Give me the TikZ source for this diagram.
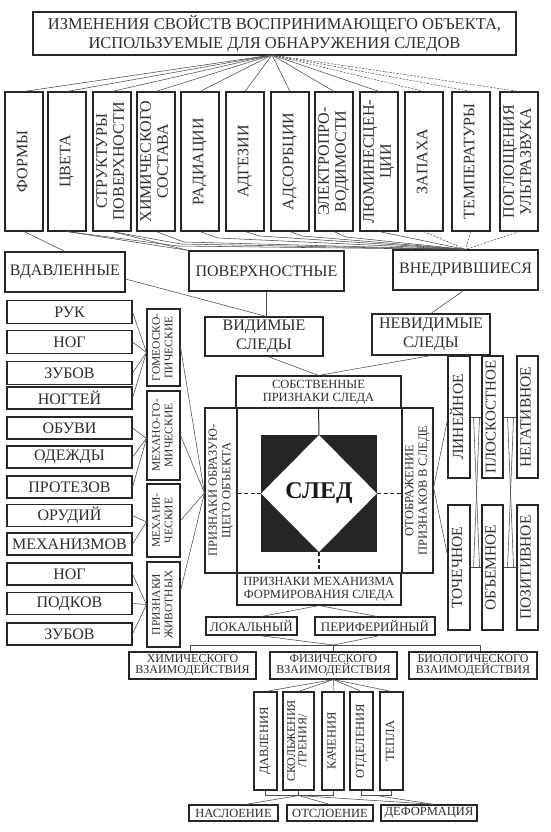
\documentclass[tikz,border=0pt]{standalone}
\usepackage{fontspec}
\setmainfont{Liberation Serif}
\usepackage{graphicx}
\usetikzlibrary{calc,shapes.geometric}
\newcommand\vtext[1]{\rotatebox{90}{\begin{tabular}{@{}c@{}}#1\end{tabular}}}
\newcommand\fA{\fontsize{16}{17}\selectfont}
\newcommand\fAA{\fontsize{16}{18.5}\selectfont}
\newcommand\fR{\fontsize{15.5}{16}\selectfont}
\newcommand\fB{\fontsize{12.5}{13.5}\selectfont}
\newcommand\fG{\fontsize{11.5}{12.5}\selectfont}
\newcommand\fC{\fontsize{12}{11}\selectfont}
\newcommand\fD{\fontsize{12.5}{13}\selectfont}
\newcommand\bx[7][]{\node[box,minimum width=#5pt,minimum height=#6pt,#1] (#2) at (#3,#4) {#7};}
\begin{document}
\begin{tikzpicture}[x=1pt,y=-1pt,
  box/.style={draw=black!85,line width=1.1pt,inner sep=0pt,align=center,text=black!82,fill=white},
  conn/.style={draw=black!70,line width=0.55pt},
  dconn/.style={conn,dash pattern=on 2pt off 1.5pt}]
\fill[white] (0,0) rectangle (550,832);
\useasboundingbox (0,0) rectangle (550,832);

% ---------- title and first row
\bx[font=\fontsize{16.5}{19}\selectfont]{title}{274.5}{33.5}{483}{43}{ИЗМЕНЕНИЯ СВОЙСТВ ВОСПРИНИМАЮЩЕГО ОБЪЕКТА,\\ИСПОЛЬЗУЕМЫЕ ДЛЯ ОБНАРУЖЕНИЯ СЛЕДОВ}
\coordinate (tc) at (272,55);

\bx[font=\fA]{t1}{24}{161.5}{38}{139}{\vtext{ФОРМЫ}}
\bx[font=\fA]{t2}{67}{161.5}{38}{139}{\vtext{ЦВЕТА}}
\bx[font=\fA]{t3}{112}{161.5}{38}{139}{\vtext{СТРУКТУРЫ\\ПОВЕРХНОСТИ}}
\bx[font=\fA]{t4}{156}{161.5}{38}{139}{\vtext{ХИМИЧЕСКОГО\\СОСТАВА}}
\bx[font=\fA]{t5}{200}{161.5}{38}{139}{\vtext{РАДИАЦИИ}}
\bx[font=\fA]{t6}{245}{161.5}{38}{139}{\vtext{АДГЕЗИИ}}
\bx[font=\fA]{t7}{290}{161.5}{38}{139}{\vtext{АДСОРБЦИИ}}
\bx[font=\fA]{t8}{334}{161.5}{38}{139}{\vtext{ЭЛЕКТРОПРО-\\ВОДИМОСТИ}}
\bx[font=\fA]{t9}{379}{161.5}{38}{139}{\vtext{ЛЮМИНЕСЦЕН-\\ЦИИ}}
\bx[font=\fA]{t10}{424}{161.5}{38}{139}{\vtext{ЗАПАХА}}
\bx[font=\fA]{t11}{471}{161.5}{38}{139}{\vtext{ТЕМПЕРАТУРЫ}}
\bx[font=\fA]{t12}{519}{161.5}{38}{139}{\vtext{ПОГЛОЩЕНИЯ\\УЛЬТРАЗВУКА}}

\foreach \i in {1,...,9} {\draw[conn] (tc) -- (t\i.north);}
\foreach \i in {10,11,12} {\draw[dconn] (tc) -- (t\i.north);}

% ---------- second level
\bx[font=\fA]{vdav}{65}{272}{120}{40}{ВДАВЛЕННЫЕ}
\bx[font=\fA]{pov}{266.5}{271}{155}{40}{ПОВЕРХНОСТНЫЕ}
\bx[font=\fA]{vned}{465.5}{270}{145}{40}{ВНЕДРИВШИЕСЯ}

\draw[conn] (t1.south) -- (vdav.north);
\draw[conn] (t2.south) -- (pov.north west);
\draw[conn] (t3.south) -- (pov.north west);
\draw[conn] (t2.south) -- (178,246) -- (vned.north);
\draw[conn] (t3.south) -- (181,244) -- (vned.north);
\draw[conn] (t4.south) -- (184,242) -- (vned.north);
\draw[conn] (t5.south) -- (218,238) -- (vned.north);
\draw[conn] (t6.south) -- (260,236) -- (vned.north);
\draw[conn] (t7.south) -- (302,236) -- (vned.north);
\draw[conn] (t8.south) -- (346,237) -- (vned.north);
\draw[conn] (t9.south) -- (vned.north);
\draw[dconn] (t10.south) -- (vned.north);
\draw[dconn] (t11.south) -- (vned.north);
\draw[dconn] (t12.south) -- (vned.north);

\bx[font=\fAA]{vid}{264}{336.5}{118}{39}{ВИДИМЫЕ\\СЛЕДЫ}
\bx[font=\fAA]{nevid}{431}{334.5}{118}{41}{НЕВИДИМЫЕ\\СЛЕДЫ}

\draw[conn] ([yshift=-7pt]vdav.east) -- ([xshift=2.5pt]vid.north);
\draw[conn] (pov.south) -- (pov.south |- vid.north);
\draw[conn] ([xshift=-2pt]vned.south) -- (nevid.north);

% ---------- centre
\bx[font=\fB]{sobst}{318.5}{392}{165}{32}{СОБСТВЕННЫЕ\\ПРИЗНАКИ СЛЕДА}
\bx{core}{319.5}{490.5}{165}{165}{}
\bx[font=\fB]{obraz}{221}{490.5}{32}{165}{\vtext{ПРИЗНАКИ ОБРАЗУЮ-\\ЩЕГО ОБЪЕКТА}}
\bx[font=\fB]{otobr}{417.5}{490.5}{31}{165}{\vtext{ОТОБРАЖЕНИЕ\\ПРИЗНАКОВ В СЛЕДЕ}}
\bx[font=\fB]{mech}{319}{589}{164}{32}{ПРИЗНАКИ МЕХАНИЗМА\\ФОРМИРОВАНИЯ СЛЕДА}
\node[fill=black!85,minimum width=116pt,minimum height=117pt,inner sep=0pt] (dark) at (319,493.5) {};
\node[diamond,fill=white,inner sep=0pt,minimum width=116pt,minimum height=117pt,
      font=\bfseries\fontsize{24}{24}\selectfont,text=black!90] (sled) at (319,493.5) {СЛЕД};

\draw[conn] ([xshift=4pt]vid.south) -- (sobst.north);
\draw[conn] (nevid.south) -- (sobst.north);

\draw[draw=black!85,line width=1pt] (sobst.south) -- (sled.north);
\draw[draw=black!85,line width=1.6pt,dash pattern=on 4pt off 2.5pt] (obraz.east |- sled.west) -- (sled.west);
\draw[draw=black!85,line width=1.6pt,dash pattern=on 4pt off 2.5pt] (sled.east) -- (otobr.west |- sled.east);
\draw[draw=black!85,line width=1.6pt,dash pattern=on 4pt off 2.5pt] (sled.south) -- (sled.south |- mech.north);

% ---------- right column
\bx[font=\fR]{lin}{459}{417}{22}{122}{\vtext{ЛИНЕЙНОЕ}}
\bx[font=\fontsize{15}{16}\selectfont]{plosk}{492.5}{417}{21}{122}{\vtext{ПЛОСКОСТНОЕ}}
\bx[font=\fR]{neg}{527.5}{417}{21}{122}{\vtext{НЕГАТИВНОЕ}}
\bx[font=\fR]{toch}{459}{567.5}{22}{125}{\vtext{ТОЧЕЧНОЕ}}
\bx[font=\fR]{obem}{492.5}{567.5}{21}{125}{\vtext{ОБЪЕМНОЕ}}
\bx[font=\fR]{poz}{527.5}{567.5}{21}{125}{\vtext{ПОЗИТИВНОЕ}}

\coordinate (oe) at ([yshift=3pt]otobr.east);
\draw[conn] (oe) -- ([yshift=-3pt]lin.west);
\draw[conn] (oe) -- ([yshift=12.5pt]toch.west);
\draw[conn] (lin.east) -- (plosk.west);
\draw[conn] (toch.east) -- (obem.west);
\draw[conn] ($(lin.east)+(3,0)$) -- ($(toch.east)+(9,0)$);
\draw[conn] ($(lin.east)+(9,0)$) -- ($(toch.east)+(3,0)$);
\draw[conn] (plosk.east) -- (neg.west);
\draw[conn] (obem.east) -- (poz.west);
\draw[conn] ($(plosk.east)+(4,0)$) -- ($(obem.east)+(10,0)$);
\draw[conn] ($(plosk.east)+(10,0)$) -- ($(obem.east)+(4,0)$);

% ---------- left column
\bx[font=\fA]{ruk}{69.5}{312}{125}{23}{РУК}
\bx[font=\fA]{nog}{69.5}{342}{125}{23}{НОГ}
\bx[font=\fA]{zub}{69.5}{373}{125}{23}{ЗУБОВ}
\bx[font=\fA]{nogt}{69.5}{398}{125}{22}{НОГТЕЙ}
\bx[font=\fA]{obuv}{69.5}{428}{125}{22}{ОБУВИ}
\bx[font=\fA]{odezh}{69.5}{457}{125}{22}{ОДЕЖДЫ}
\bx[font=\fA]{protez}{69.5}{487}{125}{22}{ПРОТЕЗОВ}
\bx[font=\fA]{orud}{69.5}{515.5}{125}{22}{ОРУДИЙ}
\bx[font=\fA]{mechz}{69.5}{544}{125}{22}{МЕХАНИЗМОВ}
\bx[font=\fA]{nogb}{69.5}{574}{125}{22}{НОГ}
\bx[font=\fA]{podk}{69.5}{603.5}{125}{22}{ПОДКОВ}
\bx[font=\fA]{zubb}{69.5}{634}{125}{22}{ЗУБОВ}

\bx[font=\fG]{gomeo}{163.5}{347.5}{33}{77}{\vtext{ГОМЕОСКО-\\ПИЧЕСКИЕ}}
\bx[font=\fG]{mgom}{163.5}{435.5}{33}{89}{\vtext{МЕХАНО-ГО-\\МИЧЕСКИЕ}}
\bx[font=\fG]{mechan}{163.5}{520.5}{33}{73}{\vtext{МЕХАНИ-\\ЧЕСКИЕ}}
\bx[font=\fG]{ziv}{163.5}{604.5}{33}{85}{\vtext{ПРИЗНАКИ\\ЖИВОТНЫХ}}

\coordinate (g1) at ([yshift=-5pt]gomeo.west);
\coordinate (g2) at ([yshift=-3pt]mgom.west);
\coordinate (g3) at ([yshift=-1.5pt]mechan.west);
\coordinate (g4) at (ziv.west);
\foreach \n in {ruk,nog,zub,nogt} {\draw[conn] (\n.east) -- (g1);}
\foreach \n in {obuv,odezh,protez} {\draw[conn] (\n.east) -- (g2);}
\foreach \n in {orud,mechz} {\draw[conn] (\n.east) -- (g3);}
\foreach \n in {nogb,podk,zubb} {\draw[conn] (\n.east) -- (g4);}

\coordinate (ow) at ([yshift=-2.5pt]obraz.west);
\draw[conn] (gomeo.east) -- (ow);
\draw[conn] (mgom.east) -- (ow);
\draw[conn] (mechan.east) -- (ow);
\draw[conn] ([yshift=14pt]ziv.east) -- (ow);

% ---------- bottom
\bx[font=\fontsize{13}{14}\selectfont]{lok}{251.5}{626}{91}{18}{ЛОКАЛЬНЫЙ}
\bx[font=\fontsize{13}{14}\selectfont]{perif}{375}{626}{120}{18}{ПЕРИФЕРИЙНЫЙ}
\draw[conn] (mech.south) -- ([xshift=10pt]lok.north);
\draw[conn] (mech.south) -- ([xshift=2pt]perif.north);

\bx[font=\fC]{chem}{192.5}{665.5}{127}{27}{ХИМИЧЕСКОГО\\ВЗАИМОДЕЙСТВИЯ}
\bx[font=\fC]{phys}{333.5}{665.5}{127}{27}{ФИЗИЧЕСКОГО\\ВЗАИМОДЕЙСТВИЯ}
\bx[font=\fC]{bio}{473}{665.5}{128}{27}{БИОЛОГИЧЕСКОГО\\ВЗАИМОДЕЙСТВИЯ}

\coordinate (bj) at (333.5,645);
\draw[conn] ([xshift=8pt]lok.south) -- (bj);
\draw[conn] ([xshift=5pt]perif.south) -- (bj);
\draw[conn] ([xshift=-2.5pt]chem.north) -- ([xshift=-2.5pt]chem.north |- bj) -- ([xshift=7pt]bio.north |- bj) -- ([xshift=7pt]bio.north);
\draw[conn] (bj) -- (phys.north);

\bx[font=\fD]{davl}{265.5}{741}{23}{98}{\vtext{ДАВЛЕНИЯ}}
\bx[font=\fC]{skol}{298.5}{741}{31}{98}{\vtext{СКОЛЬЖЕНИЯ\\/ТРЕНИЯ/}}
\bx[font=\fD]{kach}{333}{741}{22}{98}{\vtext{КАЧЕНИЯ}}
\bx[font=\fD]{otdel}{361.5}{741}{23}{98}{\vtext{ОТДЕЛЕНИЯ}}
\bx[font=\fD]{tepla}{391.5}{741}{23}{98}{\vtext{ТЕПЛА}}

\foreach \n in {davl,skol,kach,otdel,tepla} {\draw[conn] (phys.south) -- (\n.north);}

\bx[font=\fD]{nasl}{233.5}{813}{89}{16}{НАСЛОЕНИЕ}
\bx[font=\fD]{otsl}{330}{813}{86}{16}{ОТСЛОЕНИЕ}
\bx[font=\fD,line width=1.4pt]{deform}{429}{813}{96}{16}{ДЕФОРМАЦИЯ}

\draw[conn] (davl.south) -- ++(0,5) -| (kach.south);
\draw[conn] (otdel.south) -- ++(0,5) -| (tepla.south);
\coordinate (sk) at ($(skol.south)+(0,5)$);
\coordinate (ot) at ($(otdel.south)!0.5!(tepla.south)+(0,5)$);
\draw[conn] (skol.south) -- (sk);
\draw[conn] (sk) -- ([xshift=12pt]nasl.north);
\draw[conn] (sk) -- (otsl.north);
\draw[conn] (sk) -- ([xshift=4pt]deform.north);
\draw[conn] (ot) -- ([xshift=4pt]deform.north);
\end{tikzpicture}
\end{document}
